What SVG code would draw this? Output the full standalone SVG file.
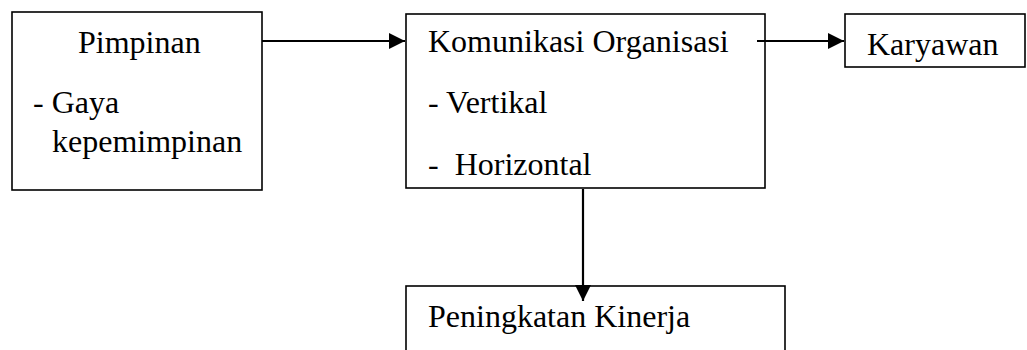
<svg xmlns="http://www.w3.org/2000/svg" width="1027" height="350" viewBox="0 0 1027 350">
<style>
.box{fill:#fff;stroke:#000;stroke-width:1.6}
.t{font-family:"Liberation Serif","Times New Roman",serif;font-size:32px;fill:#000}
.c{stroke:#000;stroke-width:2.2;fill:none}
</style>
<defs>
<marker id="ah" markerUnits="userSpaceOnUse" markerWidth="18" markerHeight="18" refX="16" refY="8" orient="auto">
<path d="M0,0 L16,8 L0,16 Z" fill="#000"/>
</marker>
</defs>
<rect width="1027" height="350" fill="#fff"/>
<g id="pimpinan">
<rect class="box" x="12" y="12" width="250" height="178"/>
<text class="t" x="78" y="53">Pimpinan</text>
<text class="t" x="33" y="113">- Gaya</text>
<text class="t" x="52" y="152">kepemimpinan</text>
</g>
<g id="komunikasi">
<rect class="box" x="406" y="14" width="359" height="174"/>
<text class="t" x="428" y="52">Komunikasi Organisasi</text>
<text class="t" x="428" y="113">- Vertikal</text>
<text class="t" x="428" y="175" xml:space="preserve">-  Horizontal</text>
</g>
<g id="karyawan">
<rect class="box" x="845" y="14" width="180" height="53"/>
<text class="t" x="867" y="55">Karyawan</text>
</g>
<g id="peningkatan">
<rect class="box" x="406" y="286" width="379" height="80"/>
<text class="t" x="428" y="327">Peningkatan Kinerja</text>
</g>
<g id="connectors">
<line class="c" x1="262" y1="41" x2="405" y2="41" marker-end="url(#ah)"/>
<line class="c" x1="757" y1="41" x2="844" y2="41" marker-end="url(#ah)"/>
<line class="c" x1="583" y1="189" x2="583" y2="301" marker-end="url(#ah)"/>
</g>
</svg>
